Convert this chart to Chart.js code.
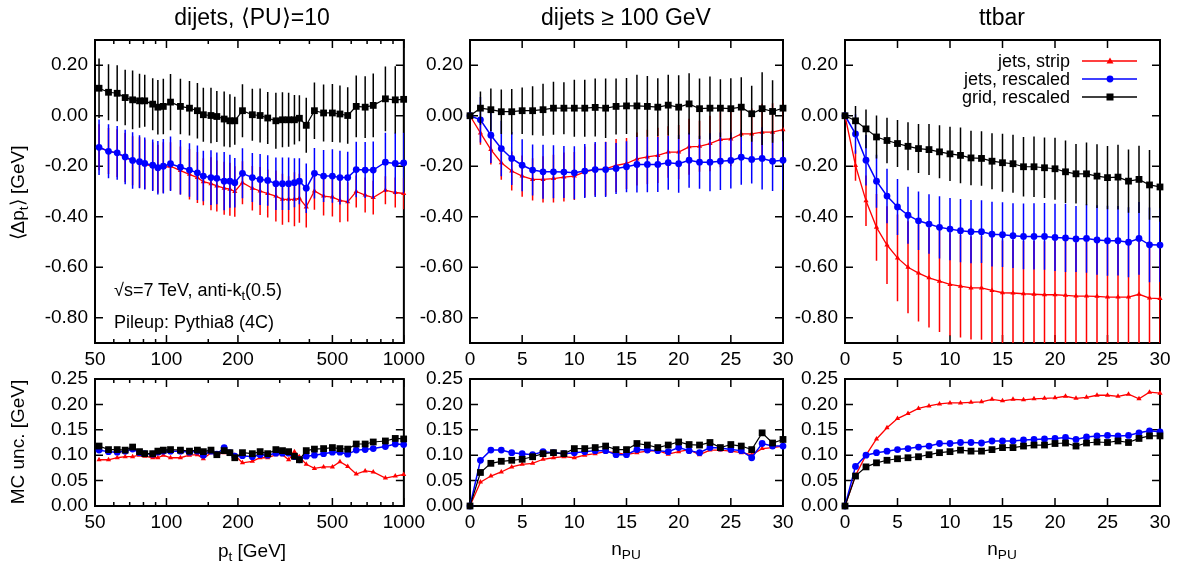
<!DOCTYPE html>
<html>
<head>
<meta charset="utf-8">
<script src="https://cdn.jsdelivr.net/npm/chart.js@4.4.0/dist/chart.umd.min.js"></script>
<style>
  html, body { margin: 0; padding: 0; background: #fff; }
  body { width: 1179px; height: 566px; position: relative; overflow: hidden;
         font-family: "Liberation Sans", Arial, sans-serif; color: #000; }
  canvas { position: absolute; }
  .t { position: absolute; white-space: nowrap; line-height: 1; }
  .c { transform: translate(-50%, -50%); }
  .l { transform: translate(0, -50%); }
  .r { transform: translate(-100%, -50%); }
  .rot { transform: translate(-50%, -50%) rotate(-90deg); }
  .title { font-size: 23px; }
  .ax { font-size: 19px; }
  .txt { font-size: 18px; }
  sub { font-size: 0.72em; vertical-align: -0.3em; line-height: 0; }
</style>
</head>
<body>
<canvas id="top1" width="430" height="380" style="left:0px;top:0px"></canvas>
<canvas id="top2" width="428" height="380" style="left:375px;top:0px"></canvas>
<canvas id="top3" width="430" height="380" style="left:750px;top:0px"></canvas>
<canvas id="bot1" width="430" height="180" style="left:0px;top:360px"></canvas>
<canvas id="bot2" width="428" height="180" style="left:375px;top:360px"></canvas>
<canvas id="bot3" width="430" height="180" style="left:750px;top:360px"></canvas>

<div class="t c title" style="left:252px;top:17px">dijets, ⟨PU⟩=10</div>
<div class="t c title" style="left:626px;top:17px">dijets ≥ 100 GeV</div>
<div class="t c title" style="left:1002px;top:17px">ttbar</div>

<div class="t rot ax" style="left:17px;top:193px">⟨Δp<sub>t</sub>⟩ [GeV]</div>
<div class="t rot ax" style="left:17px;top:442px">MC unc. [GeV]</div>
<div class="t c ax" style="left:252px;top:550px">p<sub>t</sub> [GeV]</div>
<div class="t c ax" style="left:626px;top:548px">n<sub>PU</sub></div>
<div class="t c ax" style="left:1002px;top:548px">n<sub>PU</sub></div>

<div class="t l txt" style="left:114px;top:290px">√s=7 TeV, anti-k<sub>t</sub>(0.5)</div>
<div class="t l txt" style="left:114px;top:322px">Pileup: Pythia8 (4C)</div>

<div class="t r txt" style="left:1070px;top:61px">jets, strip</div>
<div class="t r txt" style="left:1070px;top:79px">jets, rescaled</div>
<div class="t r txt" style="left:1070px;top:97px">grid, rescaled</div>
<svg style="position:absolute;left:1080px;top:50px" width="60" height="60">
  <line x1="2" y1="11" x2="57" y2="11" stroke="#ff0000" stroke-width="1.4"/>
  <polygon points="30,7.5 33.5,13.5 26.5,13.5" fill="#ff0000"/>
  <line x1="2" y1="29" x2="57" y2="29" stroke="#0000ff" stroke-width="1.5"/>
  <circle cx="30" cy="29" r="3.4" fill="#0000ff"/>
  <line x1="2" y1="47" x2="57" y2="47" stroke="#000" stroke-width="1.3"/>
  <rect x="26.5" y="43.5" width="7" height="7" fill="#000"/>
</svg>

<script>
// dijets, <PU>=10 : bins in pt [GeV]
const ptBins = [52, 57, 62, 67, 72, 77, 81, 87.5, 92, 97, 104, 114.5, 125, 135, 143, 154, 163, 175, 185, 194,
  209, 230, 248, 267, 289, 308, 327, 346, 363, 388, 420, 459, 500, 538, 580, 630, 687, 743, 836, 920, 998];
const ptStrip = [-0.125, -0.140, -0.148, -0.165, -0.178, -0.185, -0.192, -0.200, -0.210, -0.205, -0.200, -0.217, -0.232, -0.245,
  -0.261, -0.269, -0.278, -0.287, -0.291, -0.300, -0.265, -0.287, -0.298, -0.308, -0.318, -0.331, -0.331, -0.331, -0.327, -0.361,
  -0.298, -0.318, -0.322, -0.335, -0.341, -0.300, -0.314, -0.324, -0.295, -0.304, -0.308];
const ptJets = [-0.125, -0.141, -0.147, -0.163, -0.177, -0.182, -0.189, -0.196, -0.206, -0.200, -0.190, -0.204, -0.215, -0.226,
  -0.239, -0.245, -0.248, -0.259, -0.259, -0.265, -0.228, -0.245, -0.252, -0.256, -0.269, -0.269, -0.269, -0.265, -0.259, -0.287,
  -0.228, -0.239, -0.239, -0.245, -0.245, -0.213, -0.215, -0.215, -0.184, -0.189, -0.187];
const ptGrid = [0.109, 0.093, 0.089, 0.072, 0.063, 0.059, 0.059, 0.046, 0.034, 0.037, 0.054, 0.037, 0.030, 0.020,
  0.004, 0.001, -0.003, -0.013, -0.020, -0.020, 0.020, 0.004, 0.001, -0.009, -0.020, -0.016, -0.016, -0.016, -0.010, -0.038,
  0.020, 0.011, 0.011, 0.007, 0.001, 0.037, 0.034, 0.041, 0.067, 0.063, 0.065];
// MC uncertainties (lower panel); also used as the error bars of the upper panel
const ptStripUnc = [0.091, 0.091, 0.095, 0.097, 0.097, 0.100, 0.098, 0.095, 0.095, 0.100, 0.095, 0.095, 0.100, 0.101,
  0.093, 0.105, 0.101, 0.105, 0.105, 0.100, 0.085, 0.088, 0.095, 0.095, 0.101, 0.101, 0.091, 0.107, 0.097, 0.082,
  0.074, 0.077, 0.077, 0.087, 0.078, 0.063, 0.069, 0.067, 0.055, 0.059, 0.062];
const ptJetsUnc = [0.110, 0.107, 0.106, 0.108, 0.112, 0.105, 0.103, 0.102, 0.106, 0.108, 0.108, 0.108, 0.106, 0.108,
  0.100, 0.108, 0.102, 0.115, 0.105, 0.098, 0.099, 0.097, 0.101, 0.100, 0.104, 0.104, 0.104, 0.097, 0.091, 0.098,
  0.100, 0.103, 0.106, 0.106, 0.102, 0.110, 0.111, 0.113, 0.117, 0.122, 0.121];
const ptGridUnc = [0.118, 0.111, 0.111, 0.110, 0.116, 0.107, 0.103, 0.103, 0.108, 0.110, 0.111, 0.110, 0.108, 0.110,
  0.107, 0.110, 0.101, 0.109, 0.105, 0.095, 0.105, 0.103, 0.107, 0.103, 0.111, 0.109, 0.107, 0.098, 0.091, 0.109,
  0.112, 0.113, 0.115, 0.113, 0.112, 0.122, 0.122, 0.126, 0.128, 0.133, 0.132];

// dijets >= 100 GeV and ttbar : vs n_PU
const nPU = [0, 1, 2, 3, 4, 5, 6, 7, 8, 9, 10, 11, 12, 13, 14, 15, 16, 17, 18, 19, 20, 21, 22, 23, 24, 25, 26, 27, 28, 29, 30];
const djStrip = [0, -0.068, -0.134, -0.186, -0.219, -0.239, -0.252, -0.252, -0.249, -0.243, -0.239, -0.222, -0.213, -0.210, -0.197,
  -0.189, -0.171, -0.163, -0.157, -0.144, -0.144, -0.123, -0.121, -0.110, -0.094, -0.092, -0.072, -0.072, -0.065, -0.065, -0.055];
const djJets = [0, -0.016, -0.077, -0.130, -0.169, -0.196, -0.215, -0.222, -0.222, -0.223, -0.226, -0.219, -0.213, -0.213, -0.209,
  -0.202, -0.193, -0.193, -0.193, -0.186, -0.190, -0.176, -0.184, -0.184, -0.180, -0.177, -0.164, -0.173, -0.169, -0.180, -0.176];
const djGrid = [0, 0.030, 0.024, 0.016, 0.016, 0.020, 0.020, 0.024, 0.030, 0.030, 0.030, 0.030, 0.033, 0.030, 0.037,
  0.039, 0.039, 0.037, 0.034, 0.042, 0.034, 0.047, 0.028, 0.030, 0.030, 0.028, 0.034, 0.008, 0.028, 0.017, 0.030];
const djStripUnc = [0, 0.047, 0.059, 0.067, 0.077, 0.082, 0.084, 0.092, 0.095, 0.097, 0.095, 0.100, 0.103, 0.107, 0.105,
  0.101, 0.105, 0.108, 0.109, 0.102, 0.107, 0.111, 0.101, 0.110, 0.110, 0.108, 0.105, 0.101, 0.113, 0.115, 0.118];
const djJetsUnc = [0, 0.090, 0.110, 0.110, 0.105, 0.103, 0.101, 0.107, 0.105, 0.103, 0.105, 0.107, 0.109, 0.109, 0.101,
  0.101, 0.111, 0.110, 0.109, 0.107, 0.115, 0.109, 0.105, 0.115, 0.114, 0.111, 0.109, 0.095, 0.123, 0.118, 0.118];
const djGridUnc = [0, 0.066, 0.084, 0.088, 0.090, 0.092, 0.097, 0.103, 0.105, 0.103, 0.113, 0.113, 0.115, 0.118, 0.111,
  0.111, 0.123, 0.120, 0.115, 0.120, 0.126, 0.121, 0.120, 0.125, 0.115, 0.121, 0.118, 0.111, 0.144, 0.124, 0.131];

const ttStrip = [0, -0.197, -0.337, -0.442, -0.512, -0.563, -0.600, -0.623, -0.642, -0.655, -0.668, -0.675, -0.682, -0.682, -0.692,
  -0.701, -0.702, -0.705, -0.707, -0.709, -0.709, -0.711, -0.714, -0.714, -0.715, -0.718, -0.718, -0.718, -0.707, -0.722, -0.724];
const ttJets = [0, -0.072, -0.176, -0.259, -0.318, -0.361, -0.394, -0.416, -0.429, -0.442, -0.449, -0.455, -0.459, -0.459, -0.469,
  -0.471, -0.475, -0.478, -0.478, -0.478, -0.482, -0.484, -0.488, -0.486, -0.492, -0.495, -0.495, -0.501, -0.486, -0.511, -0.512];
const ttGrid = [0, -0.020, -0.052, -0.084, -0.098, -0.110, -0.121, -0.130, -0.134, -0.143, -0.151, -0.157, -0.167, -0.169, -0.180,
  -0.186, -0.190, -0.202, -0.202, -0.206, -0.210, -0.222, -0.230, -0.230, -0.239, -0.245, -0.243, -0.259, -0.252, -0.274, -0.282];
const ttStripUnc = [0, 0.060, 0.100, 0.132, 0.154, 0.172, 0.182, 0.192, 0.197, 0.201, 0.203, 0.203, 0.204, 0.205, 0.210,
  0.207, 0.210, 0.209, 0.211, 0.212, 0.213, 0.216, 0.212, 0.214, 0.218, 0.218, 0.216, 0.220, 0.211, 0.224, 0.222];
const ttJetsUnc = [0, 0.078, 0.100, 0.105, 0.108, 0.111, 0.113, 0.116, 0.118, 0.123, 0.123, 0.125, 0.125, 0.124, 0.128,
  0.128, 0.128, 0.130, 0.131, 0.132, 0.133, 0.135, 0.131, 0.136, 0.138, 0.139, 0.138, 0.139, 0.144, 0.148, 0.146];
const ttGridUnc = [0, 0.059, 0.077, 0.085, 0.090, 0.093, 0.095, 0.097, 0.101, 0.105, 0.107, 0.110, 0.108, 0.108, 0.111,
  0.115, 0.115, 0.118, 0.120, 0.120, 0.123, 0.124, 0.118, 0.124, 0.126, 0.125, 0.128, 0.125, 0.133, 0.138, 0.138];

// tick labels
const ptTicks = [50, 100, 200, 500, 1000];
const ptMinor = [60, 70, 80, 90, 150, 300, 400, 600, 700, 800, 900];
const npuTicks = [0, 5, 10, 15, 20, 25, 30];
const shiftTicks = [0.2, 0, -0.2, -0.4, -0.6, -0.8];
const uncTicks = [0, 0.05, 0.1, 0.15, 0.2, 0.25];

const RED = '#ff0000', BLUE = '#0000ff', BLACK = '#000000';
const tickFont = { family: 'Liberation Sans', size: 19 };

// vertical error bars, drawn just before each dataset (so later curves sit on top)
const errorBars = {
  id: 'errorBars',
  beforeDatasetDraw(chart, args) {
    const ds = chart.data.datasets[args.index];
    if (!ds.errors) return;
    const { ctx, chartArea: a, scales: { x, y } } = chart;
    ctx.save();
    ctx.beginPath();
    ctx.rect(a.left, a.top, a.right - a.left, a.bottom - a.top);
    ctx.clip();
    ctx.strokeStyle = ds.borderColor;
    ctx.lineWidth = 1.5;
    ctx.beginPath();
    ds.data.forEach((p, i) => {
      const px = x.getPixelForValue(p.x);
      ctx.moveTo(px, y.getPixelForValue(p.y - ds.errors[i]));
      ctx.lineTo(px, y.getPixelForValue(p.y + ds.errors[i]));
    });
    ctx.stroke();
    ctx.restore();
  }
};

// gnuplot style border with inward ticks on all four sides
const frame = {
  id: 'frame',
  beforeDatasetsDraw(chart, args, opts) {
    const { ctx, chartArea: a, scales: { x, y } } = chart;
    ctx.save();
    ctx.strokeStyle = '#000';
    ctx.lineWidth = 1.5;
    ctx.beginPath();
    const xt = (v, len) => {
      const px = x.getPixelForValue(v);
      ctx.moveTo(px, a.bottom); ctx.lineTo(px, a.bottom - len);
      ctx.moveTo(px, a.top); ctx.lineTo(px, a.top + len);
    };
    x.ticks.forEach(t => xt(t.value, 8));
    (opts.minor || []).forEach(v => xt(v, 4));
    y.ticks.forEach(t => {
      const py = y.getPixelForValue(t.value);
      ctx.moveTo(a.left, py); ctx.lineTo(a.left + 8, py);
      ctx.moveTo(a.right, py); ctx.lineTo(a.right - 8, py);
    });
    ctx.stroke();
    ctx.lineWidth = 2;
    ctx.strokeRect(a.left, a.top, a.right - a.left, a.bottom - a.top);
    ctx.restore();
  }
};

function panel(id, xs, series, opt) {
  const datasets = series.map(s => ({
    data: xs.map((v, i) => ({ x: v, y: s.y[i] })),
    errors: s.err,
    borderColor: s.color,
    backgroundColor: s.color,
    borderWidth: s.lw,
    pointStyle: s.pt,
    pointRadius: s.r,
    pointBackgroundColor: s.color,
    pointBorderWidth: 0,
    order: s.order,
    clip: false
  }));
  return new Chart(document.getElementById(id), {
    type: 'line',
    data: { datasets },
    options: {
      responsive: false,
      animation: false,
      events: [],
      layout: { padding: { top: opt.padTop, right: 20, left: 0, bottom: 0 } },
      plugins: { legend: { display: false }, tooltip: { enabled: false }, frame: { minor: opt.minor } },
      scales: {
        x: {
          type: opt.xType, min: opt.xMin, max: opt.xMax,
          grid: { display: false, drawTicks: false }, border: { display: false },
          afterBuildTicks: s => { s.ticks = opt.xTicks.map(v => ({ value: v })); },
          afterFit: s => { s.height = opt.xH; },
          ticks: { autoSkip: false, maxRotation: 0, padding: 5, color: '#000', font: tickFont,
                   callback: v => String(v) }
        },
        y: {
          type: 'linear', min: opt.yMin, max: opt.yMax,
          grid: { display: false, drawTicks: false }, border: { display: false },
          afterBuildTicks: s => { s.ticks = opt.yTicks.map(v => ({ value: v })); },
          afterFit: s => { s.width = 95; },
          ticks: { autoSkip: false, padding: 7, color: '#000', font: tickFont, callback: v => v.toFixed(2) }
        }
      }
    },
    plugins: [errorBars, frame]
  });
}

function curves(strip, jets, grid, uStrip, uJets, uGrid) {
  return [
    { y: strip, err: uStrip, color: RED, lw: 1.3, pt: 'triangle', r: 3, order: 3 },
    { y: jets, err: uJets, color: BLUE, lw: 1.5, pt: 'circle', r: 3.4, order: 2 },
    { y: grid, err: uGrid, color: BLACK, lw: 1.2, pt: 'rect', r: 4.8, order: 1 }
  ];
}

const topOpt = { padTop: 40, xH: 37, yMin: -0.9, yMax: 0.3, yTicks: shiftTicks };
const botOpt = { padTop: 19, xH: 34, yMin: 0, yMax: 0.25, yTicks: uncTicks };
const ptAxis = { xType: 'logarithmic', xMin: 50, xMax: 1000, xTicks: ptTicks, minor: ptMinor };
const npuAxis = { xType: 'linear', xMin: 0, xMax: 30, xTicks: npuTicks, minor: [] };

panel('top1', ptBins, curves(ptStrip, ptJets, ptGrid, ptStripUnc, ptJetsUnc, ptGridUnc), { ...topOpt, ...ptAxis });
panel('top2', nPU, curves(djStrip, djJets, djGrid, djStripUnc, djJetsUnc, djGridUnc), { ...topOpt, ...npuAxis });
panel('top3', nPU, curves(ttStrip, ttJets, ttGrid, ttStripUnc, ttJetsUnc, ttGridUnc), { ...topOpt, ...npuAxis });
panel('bot1', ptBins, curves(ptStripUnc, ptJetsUnc, ptGridUnc), { ...botOpt, ...ptAxis });
panel('bot2', nPU, curves(djStripUnc, djJetsUnc, djGridUnc), { ...botOpt, ...npuAxis });
panel('bot3', nPU, curves(ttStripUnc, ttJetsUnc, ttGridUnc), { ...botOpt, ...npuAxis });
</script>
</body>
</html>
